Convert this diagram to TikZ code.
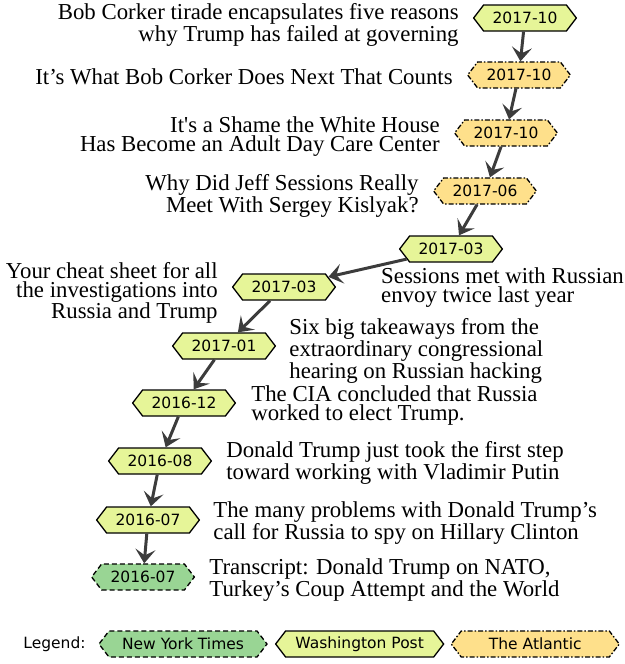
\documentclass[tikz,border=0pt]{standalone}
\usepackage{fontspec}
\setmainfont{Liberation Serif}
\newfontfamily\datefont{DejaVu Sans}
\usetikzlibrary{positioning,arrows.meta,shapes.symbols}

\definecolor{nytfill}{HTML}{99D594}
\definecolor{wpfill}{HTML}{E6F598}
\definecolor{atlfill}{HTML}{FEE08B}
\definecolor{linkgray}{HTML}{3C3C3C}

\begin{document}
\begin{tikzpicture}[x=1pt, y=-1pt,
  datebox/.style={signal, signal to=west and east, signal pointer angle=105, draw, line width=1.3pt,
    font=\datefont\fontsize{15.5}{18}\selectfont, inner xsep=9pt, inner ysep=0pt, minimum height=26pt},
  nyt/.style={datebox, fill=nytfill, dash pattern=on 5pt off 3pt},
  wp/.style={datebox, fill=wpfill},
  atl/.style={datebox, fill=atlfill, dash pattern=on 5pt off 2pt on 1.5pt off 2pt},
  title/.style={font=\fontsize{22.8}{19}\selectfont, inner sep=0pt},
  link/.style={-{Stealth[length=14pt, width=20pt, inset=6pt]}, line width=3pt, linkgray}
]
  \useasboundingbox (0,0) rectangle (624,664);

  % Date boxes (newest on top)
  \node[wp]  (d1)  at (525,18)  {2017-10};
  \node[atl] (d2)  at (519,75)  {2017-10};
  \node[atl] (d3)  at (506,133) {2017-10};
  \node[atl] (d4)  at (485,191) {2017-06};
  \node[wp]  (d5)  at (451,249) {2017-03};
  \node[wp]  (d6)  at (284,287) {2017-03};
  \node[wp]  (d7)  at (224,346) {2017-01};
  \node[wp]  (d8)  at (184,403) {2016-12};
  \node[wp]  (d9)  at (160,461) {2016-08};
  \node[wp]  (d10) at (148,520) {2016-07};
  \node[nyt] (d11) at (143,577) {2016-07};

  % Headlines
  \node[title, left=14pt of d1, yshift=-7pt, align=right] (t1) {Bob Corker tirade encapsulates five reasons\\why Trump has failed at governing};
  \node[title, left=14pt of d2, yshift=-2pt] (t2) {It’s What Bob Corker Does Next That Counts};
  \node[title, left=14pt of d3, yshift=-4pt, align=right] (t3) {It\textquotesingle s a Shame the White House\\Has Become an Adult Day Care Center};
  \node[title, left=14pt of d4, yshift=-5pt, align=right] (t4) {Why Did Jeff Sessions Really\\Meet With Sergey Kislyak?};
  \node[title, anchor=north west, align=left] (t5) at (381,267) {Sessions met with Russian\\envoy twice last year};
  \node[title, left=14pt of d6, yshift=-6pt, align=right] (t6) {Your cheat sheet for all\\the investigations into\\Russia and Trump};
  \node[title, right=13pt of d7, yshift=-5pt, align=left] (t7) {Six big takeaways from the\\extraordinary congressional\\hearing on Russian hacking};
  \node[title, right=15pt of d8, yshift=-3pt, align=left] (t8) {The CIA concluded that Russia\\worked to elect Trump.};
  \node[title, right=14pt of d9, yshift=-2pt, align=left] (t9) {Donald Trump just took the first step\\toward working with Vladimir Putin};
  \node[title, right=13pt of d10, yshift=-3pt, align=left] (t10) {The many problems with Donald Trump’s\\call for Russia to spy on Hillary Clinton};
  \node[title, right=14pt of d11, yshift=-3pt, align=left] (t11) {Transcript: Donald Trump on NATO,\\Turkey’s Coup Attempt and the World};

  % Links
  \draw[link] (d1) -- (d2);
  \draw[link] (d2) -- (d3);
  \draw[link] (d3) -- (d4);
  \draw[link] (d4) -- (d5);
  \draw[link] (d5) -- (d6);
  \draw[link] (d6) -- (d7);
  \draw[link] (d7) -- (d8);
  \draw[link] (d8) -- (d9);
  \draw[link] (d9) -- (d10);
  \draw[link] (d10) -- (d11);

  % Legend
  \node[font=\datefont\fontsize{15.5}{18}\selectfont, inner sep=0pt] (legend) at (54.5,644) {Legend:};
  \node[nyt, minimum width=168pt] (lnyt) at (183,644) {New York Times};
  \node[wp, minimum width=168pt, right=7pt of lnyt] (lwp) {Washington Post};
  \node[atl, minimum width=168pt, right=6pt of lwp] (latl) {The Atlantic};
\end{tikzpicture}
\end{document}
